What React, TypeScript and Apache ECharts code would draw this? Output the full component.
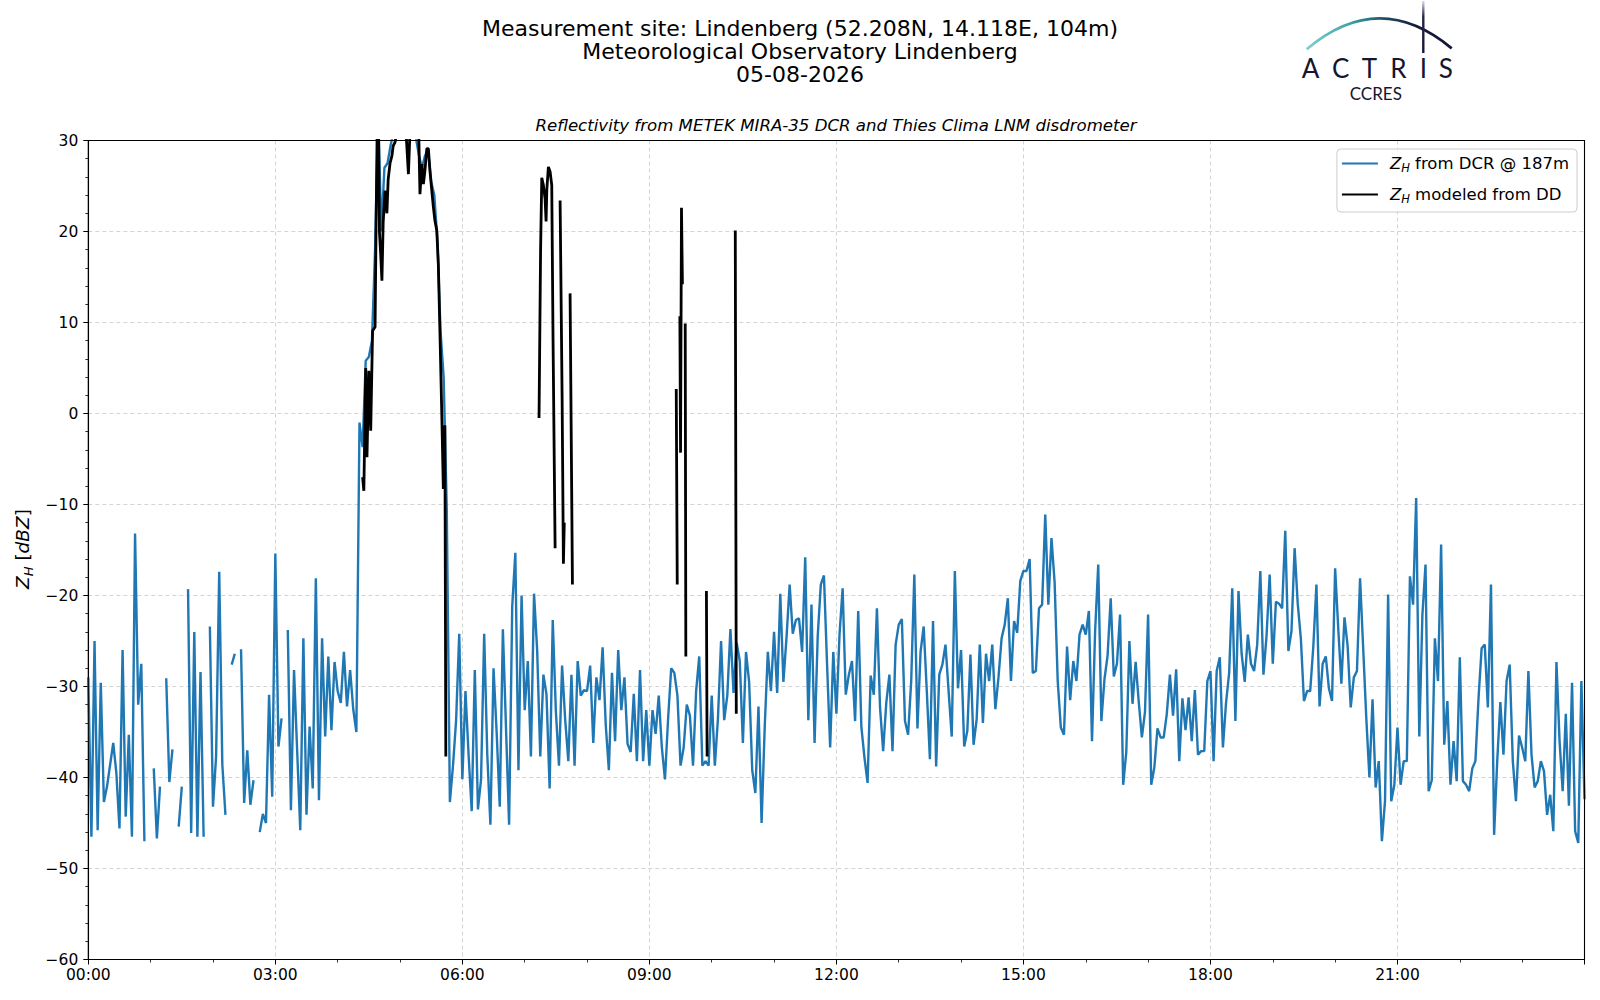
import React, { useEffect, useRef } from "react";
import * as echarts from "echarts";

// ---------------- data ----------------
const STEP_HOURS = 0.05; // 3-minute resolution of the DCR series

// Z_H from DCR @ 187m, one value every 3 minutes from 00:00 (null = no data)
const dcrHour00_03 = [
  -29, -46.5, -25, -45.8, -29.6, -42.7, -41, -38.6, -36.2, -39.5, -45.6, -26, -44.3, -35.3, -46.5, -13.2, -32, -27.5, -47, null,
  null, -39, -46.7, -41, null, -29.1, -40.5, -36.9, null, -45.4, -41, null, -19.3, -46.1, -24, -46.5, -28.4, -46.5, null, -23.4,
  -43.2, -37.7, -17.4, -38.6, -44.1, null, -27.6, -26.4, null, -25.9, -42.8, -37, -43, -40.3, null, -46, -44, -45, -30.9, -42.1,
  -15.4, -36.6, -33.5, null, -23.8, -43.6, -28.2, -37, -45.8, -24.7, -44.1, -34.4, -41.2, -18.1, -42.5, -24.7, -35.5, -26.7, -34.8, -27.3,
];
const dcrHour04_07 = [
  -30.5, -31.8, -26.2, -32.2, -28.2, -32.5, -35, -1, -3.7, 5.8, 6.2, 8, 18, 33, 20, 27, 27.5, 29.5, 31, 32,
  33, 33, 32, 32, 31, 30.5, 28.5, 27, 28.3, 29, 25.5, 24, 19, 9, 4, -10.5, -42.7, -38.7, -33.7, -24.2,
  -40.2, -30.5, -37.5, -43.7, -28.2, -43.5, -40.2, -24.2, -37.5, -45.2, -28, -35, -43.2, -23.7, -34.5, -45.2, -21.2, -15.3, -39.2, -20,
  -32.6, -27.2, -37.7, -19.8, -26, -37.7, -28.7, -30.9, -41.2, -22.7, -32.7, -38.7, -27.7, -33.7, -38.2, -28.7, -38.7, -27.2, -31, -30.4,
];
const dcrHour08_11 = [
  -30.5, -27.7, -36.2, -29, -31.5, -25.7, -34.2, -39.2, -28.5, -36, -26, -32.6, -29, -36.3, -37.2, -30.8, -38.2, -28.2, -38.2, -32.6,
  -38.7, -32.6, -35.2, -31, -36.7, -40.2, -33.6, -28, -28.5, -31, -38.7, -36.7, -32, -33.2, -38.7, -30.5, -26.7, -38.7, -38.2, -38.7,
  -31, -38.7, -33.5, -25, -33.7, -31, -23.7, -30.7, -25.2, -27.2, -36.2, -26.2, -29.5, -39.2, -41.7, -32.2, -45, -34.5, -26.2, -30.5,
  -24, -30.7, -19.8, -29.5, -24.6, -18.8, -24.2, -22.7, -22.5, -26.2, -15.8, -33.7, -21, -36.2, -24.5, -18.8, -17.8, -27.5, -36.7, -26.2,
];
const dcrHour12_15 = [
  -33, -24.3, -19.2, -30.9, -28.7, -27.2, -33.8, -21.7, -34.4, -37.8, -40.6, -28.8, -30.9, -21.4, -32.3, -37.1, -31.8, -28.7, -37.1, -25.4,
  -23.2, -22.6, -33.8, -35.3, -29.4, -17.7, -34.6, -26.2, -23.4, -30.5, -38, -22.8, -38.8, -28.7, -27.6, -25.4, -30.5, -35.5, -17.3, -30.2,
  -26, -36.6, -34.9, -26.5, -36.4, -33.6, -25.4, -34, -26.4, -29.4, -25.4, -32.5, -29, -24.7, -23.2, -20.3, -29.4, -22.8, -24.1, -18.4,
  -17.3, -17.3, -16, -28.5, -28.3, -21.4, -21, -11.1, -21, -13.7, -18.5, -29.4, -34.5, -35.3, -25.6, -31.5, -27.2, -29.4, -24.3, -23.2,
];
const dcrHour16_19 = [
  -24.3, -21.7, -36, -23.9, -16.6, -33.8, -29.2, -26.6, -20.3, -28.9, -27.5, -22.1, -40.8, -37.2, -25, -31.9, -27.3, -31.7, -35.6, -32.8,
  -22.1, -40.8, -38.9, -34.6, -35.6, -35.6, -33, -28.7, -33.2, -28.1, -38.2, -31.3, -34.8, -31.2, -36, -30.4, -37.5, -37.1, -37.1, -29.4,
  -28.3, -38.2, -28.3, -26.8, -36.7, -31.8, -28.5, -19.2, -33.8, -19.5, -26.4, -29.5, -24.3, -27.5, -28.3, -25.4, -17.3, -28.7, -24.4, -17.7,
  -27.5, -20.7, -20.9, -21.4, -12.9, -26.1, -23.9, -14.8, -20.9, -24.7, -31.6, -30.5, -30.5, -25.6, -18.8, -32.2, -27.5, -26.7, -30.2, -31.6,
];
const dcrHour20_24 = [
  -17, -23.6, -29.7, -22.4, -25.5, -32.3, -29, -28.3, -18.1, -25.8, -33.5, -40, -31.4, -41.1, -38.2, -47, -42.6, -19.9, -42.6, -40.8,
  -34.5, -40.8, -38.2, -38.2, -17.9, -21, -9.3, -35.5, -22.1, -16.6, -41.5, -40.3, -24.7, -29.4, -14.4, -36.4, -31.6, -40.8, -36, -40.4,
  -26.8, -40.4, -40.8, -41.5, -39, -38.2, -31.3, -25.8, -25.4, -32.3, -18.8, -46.3, -38.2, -31.7, -37.5, -29.4, -27.6, -38.2, -42.6, -35.4,
  -36.7, -38.2, -28.3, -37.5, -41.1, -40.4, -38.2, -39.3, -44.1, -41.9, -45.9, -27.3, -36, -41.5, -33, -43.1, -29.6, -45.9, -47.2, -29.4,
  -42.4,
];

// Z_H modeled from disdrometer: times (hours) and values, null marks a gap
const ddTimes = [
  4.40, 4.42, 4.45, 4.47, 4.50, 4.53, 4.56, 4.60, 4.615, 4.635, 4.655, 4.67, 4.69, 4.71, 4.73, 4.76, 4.79, 4.81, 4.84, 4.87,
  4.89, 4.92, 4.95, 5.00, 5.05, 5.10, 5.135, 5.16, 5.22, 5.27, 5.30, 5.32, 5.35, 5.375, 5.40, 5.43, 5.455, 5.48, 5.51, 5.535,
  5.56, 5.59, 5.615, 5.64, 5.67, 5.695, 5.72, 5.735, 5.736,
  7.23, 7.255, 7.274, 7.30, 7.327, 7.343, 7.355, 7.38, 7.407, 7.434, 7.455, 7.488, 7.489,
  7.568, 7.60, 7.621, 7.635, 7.636,
  7.728, 7.766, 7.767,
  9.431, 9.447, 9.448,
  9.489, 9.50, 9.515, 9.53, 9.531,
  9.575, 9.585, 9.586,
  9.915, 9.926, 9.927,
  10.378, 10.394,
];
const ddZ = [
  -7, -8.5, 5, -4.8, 4.7, -1.9, 9.1, 9.5, 20, 32, 32, 20, 17.5, 14.6, 21, 24.5, 22, 25.7, 27.5, 28.3,
  29.4, 29.8, 31, 31, 31, 30.5, 26.3, 31, 31, 30.5, 31, 24.1, 27.4, 25.2, 26.7, 29.1, 29.1, 26.7, 24.5, 22.7,
  21.2, 20.1, 16.4, 9.1, 0, -8.3, -1.3, -37.7, null,
  -0.5, 18, 25.9, 25.1, 23.6, 21.1, 24.6, 27.1, 26.6, 25.1, 8, -14.8, null,
  23.4, 2, -16.5, -12, null,
  13.2, -18.8, null,
  2.7, -18.8, null,
  10.7, -4.3, 22.6, 14.2, null,
  9.9, -26.7, null,
  -19.5, -37.7, null,
  20.1, -33,
];

const xTickHours = [0, 3, 6, 9, 12, 15, 18, 21];
const yTicks = [-60, -50, -40, -30, -20, -10, 0, 10, 20, 30];

const SERIES_DCR = "ZH from DCR @ 187m";
const SERIES_DD = "ZH modeled from DD";

const titleLines = [
  "Measurement site: Lindenberg (52.208N, 14.118E, 104m)",
  "Meteorological Observatory Lindenberg",
  "05-08-2026",
];
const subTitle = "Reflectivity from METEK MIRA-35 DCR and Thies Clima LNM disdrometer";
const logoLetters = ["A", "C", "T", "R", "I", "S"];
const logoLetterX = [1310.5, 1340.8, 1369.5, 1398.3, 1423.3, 1445.8];

const FONT = "DejaVu Sans";
const GRID = { left: 88.3, right: 15.5, top: 140.5, bottom: 40.5 };

export default function App() {
  const ref = useRef<HTMLDivElement>(null);

  useEffect(() => {
    if (!ref.current) return;
    const chart = echarts.init(ref.current, undefined, { renderer: "svg", width: 1600, height: 1000 });

    const dcrAll = [...dcrHour00_03, ...dcrHour04_07, ...dcrHour08_11, ...dcrHour12_15, ...dcrHour16_19, ...dcrHour20_24];
    const dcrData = dcrAll.map((v, i) => [Math.round(i * STEP_HOURS * 1000) / 1000, v == null ? "-" : v]);
    const ddData = ddTimes.map((t, i) => [t, ddZ[i] == null ? "-" : ddZ[i]]);

    const LF = 16.5;
    const subRich = {
      z: { fontStyle: "italic", fontSize: LF, lineHeight: 21, fontFamily: FONT, color: "#000", padding: [0, 0, 0, 7] },
      s: { fontStyle: "italic", fontSize: 11.5, lineHeight: 10, verticalAlign: "bottom", fontFamily: FONT, color: "#000" },
      t: { fontSize: LF, lineHeight: 21, fontFamily: FONT, color: "#000" },
    };

    const graphics: any[] = [];
    titleLines.forEach((line, i) => {
      graphics.push({
        type: "text",
        x: 800,
        y: 28.6 + i * 23,
        style: { text: line, fontSize: 22, fontFamily: FONT, fill: "#000", align: "center", verticalAlign: "middle" },
      });
    });
    graphics.push({
      type: "text",
      x: 836,
      y: 125.5,
      style: { text: subTitle, fontSize: 16.6, fontStyle: "italic", fontFamily: FONT, fill: "#000", align: "center", verticalAlign: "middle" },
    });
    // y axis name
    graphics.push({
      type: "text",
      x: 22.5,
      y: 549,
      rotation: Math.PI / 2,
      style: {
        text: "{z|Z}{s|H}{t| [}{i|dBZ}{t|]}",
        align: "center",
        verticalAlign: "middle",
        rich: {
          z: { fontStyle: "italic", fontSize: 18.5, lineHeight: 24, fontFamily: FONT, fill: "#000" },
          s: { fontStyle: "italic", fontSize: 13, lineHeight: 12, verticalAlign: "bottom", fontFamily: FONT, fill: "#000" },
          t: { fontSize: 18.5, lineHeight: 24, fontFamily: FONT, fill: "#000" },
          i: { fontStyle: "italic", fontSize: 18.5, lineHeight: 24, fontFamily: FONT, fill: "#000" },
        },
      },
    });
    // plot frame (all four spines)
    graphics.push({
      type: "rect",
      z: 100,
      silent: true,
      shape: { x: GRID.left, y: GRID.top, width: 1600 - GRID.left - GRID.right, height: 1000 - GRID.top - GRID.bottom },
      style: { fill: "transparent", stroke: "#000", lineWidth: 1.1 },
    });
    // logo
    graphics.push({
      type: "bezierCurve",
      shape: { x1: 1306.7, y1: 49.3, x2: 1451.7, y2: 48.3, cpx1: 1379, cpy1: -12 },
      style: {
        fill: null,
        lineWidth: 2.8,
        stroke: new echarts.graphic.LinearGradient(0, 0, 1, 0, [
          { offset: 0, color: "#7fd0cc" },
          { offset: 0.3, color: "#3aa3aa" },
          { offset: 0.55, color: "#1d4a66" },
          { offset: 0.75, color: "#171a3a" },
          { offset: 1, color: "#151634" },
        ]),
      },
    });
    graphics.push({
      type: "rect",
      shape: { x: 1422.1, y: 1, width: 2.4, height: 52 },
      style: {
        fill: new echarts.graphic.LinearGradient(0, 0, 0, 1, [
          { offset: 0, color: "#dcdce6" },
          { offset: 0.3, color: "#232548" },
          { offset: 1, color: "#151634" },
        ]),
      },
    });
    logoLetters.forEach((ch, i) => {
      graphics.push({
        type: "text",
        x: logoLetterX[i],
        y: 67.5,
        style: { text: ch, fontSize: 26, fontFamily: "Lato", fill: "#15162f", align: "center", verticalAlign: "middle" },
      });
    });
    graphics.push({
      type: "text",
      x: 1375.8,
      y: 93.3,
      style: { text: "CCRES", fontSize: 17, fontFamily: "Lato", fill: "#15162f", align: "center", verticalAlign: "middle" },
    });

    const axisCommon = {
      axisLine: { show: true, onZero: false, lineStyle: { color: "#000", width: 1.1 } },
      axisTick: { show: true, length: 5, lineStyle: { color: "#000", width: 1 } },
      splitLine: { show: true, lineStyle: { color: "#d4d4d4", width: 1, type: [4, 3] } },
    };

    chart.setOption({
      animation: false,
      backgroundColor: "#ffffff",
      textStyle: { fontFamily: FONT },
      grid: {
        ...GRID,
        containLabel: false,
        outerBoundsMode: "none",
        show: false,
      },
      xAxis: {
        type: "value",
        min: 0,
        max: 24,
        interval: 3,
        ...axisCommon,
        minorTick: { show: true, splitNumber: 3, length: 3, lineStyle: { color: "#000", width: 0.8 } },
        minorSplitLine: { show: false },
        axisLabel: {
          color: "#000",
          fontSize: 15.5,
          fontFamily: FONT,
          margin: 7,
          showMaxLabel: false,
          formatter: (v: number) => (xTickHours.includes(v) ? `${String(v).padStart(2, "0")}:00` : ""),
        },
      },
      yAxis: {
        type: "value",
        min: yTicks[0],
        max: yTicks[yTicks.length - 1],
        interval: 10,
        ...axisCommon,
        minorTick: { show: true, splitNumber: 5, length: 3, lineStyle: { color: "#000", width: 0.8 } },
        minorSplitLine: { show: false },
        axisLabel: {
          color: "#000",
          fontSize: 15.5,
          fontFamily: FONT,
          margin: 10,
          formatter: (v: number) => String(v).replace("-", "\u2212"),
        },
      },
      legend: {
        orient: "vertical",
        right: 23,
        top: 149,
        icon: "rect",
        itemWidth: 36,
        itemHeight: 2.2,
        itemGap: 12,
        padding: [6, 8, 7, 5],
        borderColor: "#cccccc",
        borderWidth: 1,
        borderRadius: 4,
        backgroundColor: "rgba(255,255,255,0.85)",
        data: [SERIES_DCR, SERIES_DD],
        formatter: (name: string) =>
          name === SERIES_DCR ? "{z|Z}{s|H}{t| from DCR @ 187m}" : "{z|Z}{s|H}{t| modeled from DD}",
        textStyle: { fontSize: LF, color: "#000", fontFamily: FONT, rich: subRich },
      },
      graphic: graphics,
      series: [
        {
          name: SERIES_DCR,
          type: "line",
          data: dcrData,
          symbol: "none",
          showSymbol: false,
          connectNulls: false,
          clip: true,
          color: "#1f77b4",
          lineStyle: { color: "#1f77b4", width: 2.4 },
          z: 2,
        },
        {
          name: SERIES_DD,
          type: "line",
          data: ddData,
          symbol: "none",
          showSymbol: false,
          connectNulls: false,
          clip: true,
          color: "#000000",
          lineStyle: { color: "#000000", width: 2.8 },
          z: 3,
        },
      ],
    });

    return () => chart.dispose();
  }, []);

  return (
    <div
      ref={ref}
      style={{ position: "absolute", left: 0, top: 0, width: 1600, height: 1000, background: "#fff" }}
    />
  );
}
